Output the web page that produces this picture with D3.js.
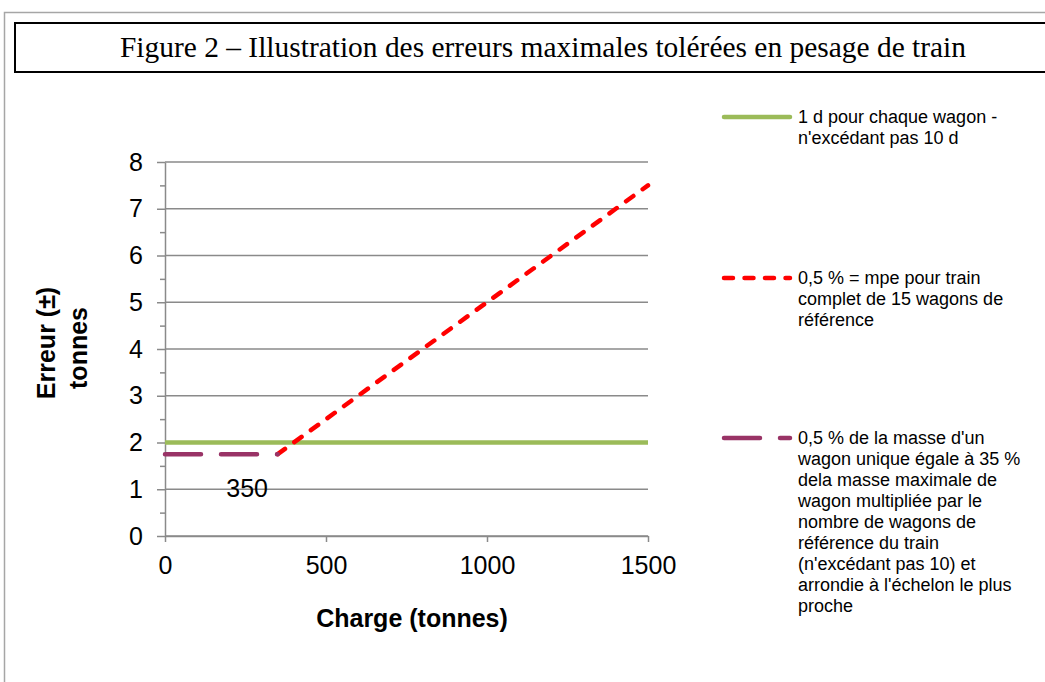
<!DOCTYPE html>
<html>
<head>
<meta charset="utf-8">
<script src="https://cdn.jsdelivr.net/npm/d3@7"></script>
<style>
  body { margin: 0; background: #fff; }
  svg { display: block; }
  .tick-label { font-family: "Liberation Sans", Arial, sans-serif; font-size: 25px; fill: #000; }
  .axis-title { font-family: "Liberation Sans", Arial, sans-serif; font-size: 25px; font-weight: bold; fill: #000; }
  .legend-text { font-family: "Liberation Sans", Arial, sans-serif; font-size: 18px; fill: #000; }
</style>
</head>
<body>
<div id="chart"></div>
<script>

// ---- data ----
var titleText = "Figure 2 \u2013 Illustration des erreurs maximales tol\u00e9r\u00e9es en pesage de train";

var xTicks = [0, 500, 1000, 1500];
var yTicks = [0, 1, 2, 3, 4, 5, 6, 7, 8];
var yMinorTicks = [0.5, 1.5, 2.5, 3.5, 4.5, 5.5, 6.5, 7.5];

// 1 d per wagon
var wagonX = [0, 1500];
var wagonY = [2, 2];

// 0,5 % full train
var trainX = [350, 1500];
var trainY = [1.75, 7.5];

// 0,5 % single wagon
var singleX = [0, 350];
var singleY = [1.75, 1.75];

var annotation = { text: "350", x: 255, y: 0.83 };

var legendLabels = [
    ["1 d pour chaque wagon -", "n'exc\u00e9dant pas 10 d"],
    ["0,5 % = mpe pour train", "complet de 15 wagons de", "r\u00e9f\u00e9rence"],
    ["0,5 % de la masse d'un", "wagon unique \u00e9gale \u00e0 35 %", "dela masse maximale de",
     "wagon multipli\u00e9e par le", "nombre de wagons de", "r\u00e9f\u00e9rence du train",
     "(n'exc\u00e9dant pas 10) et", "arrondie \u00e0 l'\u00e9chelon le plus", "proche"]
];

var width = 1045, height = 682;

var svg = d3.select("#chart").append("svg")
    .attr("width", width)
    .attr("height", height);

// outer frame + title box
svg.append("path")
    .attr("d", "M4.5," + height + " V12.5 H" + (width + 5))
    .attr("fill", "none")
    .attr("stroke", "#a6a6a6")
    .attr("stroke-width", 1.5);

svg.append("rect")
    .attr("x", 15).attr("y", 23)
    .attr("width", width).attr("height", 49)
    .attr("fill", "none")
    .attr("stroke", "#000")
    .attr("stroke-width", 2);

svg.append("text")
    .text(titleText)
    .attr("x", 543)
    .attr("y", 57)
    .attr("text-anchor", "middle")
    .attr("textLength", 846)
    .attr("lengthAdjust", "spacingAndGlyphs")
    .style("font-family", "'Liberation Serif', 'Times New Roman', serif")
    .style("font-size", "29px");

// scales
var x = d3.scaleLinear().domain([0, 1500]).range([165, 648]);
var y = d3.scaleLinear().domain([0, 8]).range([536, 162]);

var gridColor = "#8a8a8a";

// gridlines
svg.append("g")
    .selectAll("line")
    .data(yTicks)
    .enter()
    .append("line")
    .attr("x1", x(0)).attr("x2", x(1500))
    .attr("y1", function(d){ return y(d); })
    .attr("y2", function(d){ return y(d); })
    .attr("stroke", gridColor)
    .attr("stroke-width", 1.5);

// y axis
var yAxis = svg.append("g")
    .attr("transform", "translate(" + x(0) + ",0)")
    .call(d3.axisLeft(y).tickValues(yTicks).tickSize(8).tickPadding(14).tickSizeOuter(0).tickFormat(d3.format("d")));

var yMinor = svg.append("g")
    .attr("transform", "translate(" + x(0) + ",0)")
    .call(d3.axisLeft(y).tickValues(yMinorTicks).tickSize(5).tickFormat("").tickSizeOuter(0));
yMinor.select(".domain").remove();

// x axis
var xAxis = svg.append("g")
    .attr("transform", "translate(0," + y(0) + ")")
    .call(d3.axisBottom(x).tickValues(xTicks).tickSize(6).tickPadding(14).tickSizeOuter(0).tickFormat(d3.format("d")));

[yAxis, yMinor, xAxis].forEach(function(g){
    g.selectAll("line").attr("stroke", gridColor).attr("stroke-width", 1.5);
    g.select(".domain").attr("stroke", gridColor).attr("stroke-width", 1.5);
    g.selectAll("text").attr("class", "tick-label").attr("fill", "#000");
});

// series
var line = d3.line()
    .x(function(d){ return x(d[0]); })
    .y(function(d){ return y(d[1]); });

var series = [
    { xs: wagonX, ys: wagonY, color: "#9bbb59", dash: null, cap: "butt" },
    { xs: trainX, ys: trainY, color: "#ff0000", dash: "9,11.5", cap: "round" },
    { xs: singleX, ys: singleY, color: "#993366", dash: "36,20", cap: "round" }
];

svg.append("g")
    .selectAll("path")
    .data(series)
    .enter()
    .append("path")
    .attr("d", function(s){ return line(d3.zip(s.xs, s.ys)); })
    .attr("fill", "none")
    .attr("stroke", function(s){ return s.color; })
    .attr("stroke-width", 4.5)
    .attr("stroke-linecap", function(s){ return s.cap; })
    .attr("stroke-dasharray", function(s){ return s.dash; });

// "350" annotation
svg.append("text")
    .text(annotation.text)
    .attr("x", x(annotation.x))
    .attr("y", y(annotation.y))
    .attr("text-anchor", "middle")
    .attr("class", "tick-label")
    .style("font-size", "25px");

// axis titles
svg.append("text")
    .text("Charge (tonnes)")
    .attr("x", 412)
    .attr("y", 627)
    .attr("text-anchor", "middle")
    .attr("class", "axis-title");

svg.append("text")
    .text("Erreur (\u00b1)")
    .attr("transform", "translate(55,343) rotate(-90)")
    .attr("text-anchor", "middle")
    .attr("class", "axis-title");

svg.append("text")
    .text("tonnes")
    .attr("transform", "translate(87,348) rotate(-90)")
    .attr("text-anchor", "middle")
    .attr("class", "axis-title");

// legend
var legendY = [117, 278, 438];
var lineHeight = 21;

var legend = svg.append("g")
    .selectAll("g")
    .data(series)
    .enter()
    .append("g")
    .attr("transform", function(d, i){ return "translate(724," + legendY[i] + ")"; });

legend.append("line")
    .attr("x1", 0).attr("x2", 66)
    .attr("y1", 0).attr("y2", 0)
    .attr("stroke", function(s){ return s.color; })
    .attr("stroke-width", 4.5)
    .attr("stroke-linecap", "round")
    .attr("stroke-dasharray", function(s){ return s.dash; });

legend.each(function(s, i){
    d3.select(this).selectAll("text")
        .data(legendLabels[i])
        .enter()
        .append("text")
        .attr("class", "legend-text")
        .attr("x", 74)
        .attr("y", function(d, j){ return j * lineHeight + 6; })
        .text(function(d){ return d; });
});

</script>
</body>
</html>
